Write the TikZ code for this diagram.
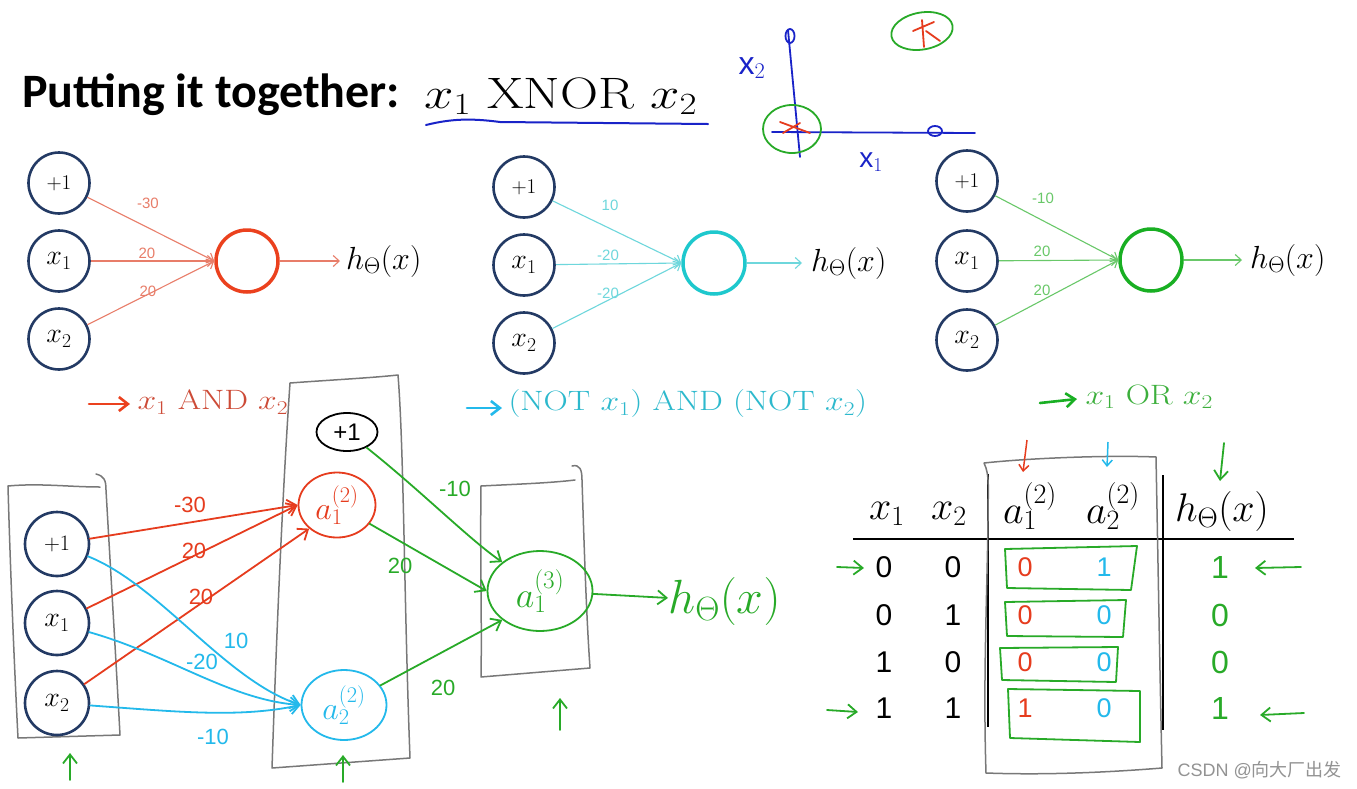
\RequirePackage{fix-cm}
\documentclass[tikz,border=0pt]{standalone}
\usepackage{fontspec}
\setsansfont{Liberation Sans}
\newfontfamily\titlefont{Carlito}
\newfontfamily\cjkfont{Noto Sans CJK SC}
\usetikzlibrary{arrows.meta,shapes.geometric}
\definecolor{navy}{RGB}{35,58,100}
\definecolor{nred}{RGB}{235,65,30}
\definecolor{lred}{RGB}{232,125,105}
\definecolor{tred}{RGB}{205,75,55}
\definecolor{ncyan}{RGB}{30,200,205}
\definecolor{lcyan}{RGB}{110,215,220}
\definecolor{tcyan}{RGB}{45,185,205}
\definecolor{ngreen}{RGB}{25,175,35}
\definecolor{lgreen}{RGB}{105,200,105}
\definecolor{tgreen}{RGB}{60,175,60}
\definecolor{hgreen}{RGB}{40,170,40}
\definecolor{hblue}{RGB}{25,35,200}
\definecolor{hcyan}{RGB}{35,185,235}
\definecolor{hred}{RGB}{230,60,30}
\definecolor{hgray}{RGB}{120,120,120}
\newcommand{\wide}[1]{\scalebox{1.2}[1]{#1}}
\begin{document}
\begin{tikzpicture}[x=1pt,y=-1pt,
  inp/.style={circle,draw=navy,line width=2.6pt,minimum size=61pt,inner sep=0pt,font=\fontsize{28}{32}\selectfont},
  outc/.style={circle,line width=3.5pt,minimum size=62pt,inner sep=0pt},
  wlab/.style={font=\sffamily\fontsize{15}{18}\selectfont},
  thinedge/.style={line width=1.1pt,-{Straight Barb[length=6pt,width=11pt]}},
  hand/.style={line width=1.8pt,line cap=round,line join=round},
  hedge/.style={hand,-{Straight Barb[length=9pt,width=14pt]}},
  hlab/.style={font=\sffamily\fontsize{22}{26}\selectfont},
  boxline/.style={draw=hgray,line width=1.5pt,line cap=round,line join=round},
  hmath/.style={font=\fontsize{32}{38}\selectfont},
  lbl/.style={font=\fontsize{28}{34}\selectfont,anchor=west},
  hcirc/.style={ellipse,hand,inner sep=0pt},
  num/.style={font=\sffamily\fontsize{30}{34}\selectfont},
  hnum/.style={font=\sffamily\fontsize{27}{30}\selectfont},
  thead/.style={font=\fontsize{40}{46}\selectfont}
]
\useasboundingbox (0,0) rectangle (1357,788);
\fill[white] (0,0) rectangle (1357,788);

% ---------- title ----------
\node[anchor=west,inner sep=0pt] (title) at (22,95) {\titlefont\bfseries\fontsize{48}{56}\selectfont Putting it together:};
\node[anchor=west,inner sep=0pt] (xnor) at (424,96) {\fontsize{44}{52}\selectfont\wide{$x_1\ \mathrm{XNOR}\ x_2$}};
\draw[hblue,line width=2pt,line cap=round] (426,125) .. controls (450,119) and (470,118) .. (500,122) -- (708,124);

% ---------- x1-x2 plot ----------
\coordinate (vtop) at (788,30);
\coordinate (vbot) at (800,157);
\coordinate (hl) at (772,132);
\coordinate (hr) at (975,133);
\draw[hblue,hand] (vtop) -- (vbot);
\draw[hblue,hand] (hl) -- (hr);
\node[ellipse,draw=hblue,hand,minimum width=9pt,minimum height=14pt,inner sep=0pt] (o1) at (790,36) {};
\node[ellipse,draw=hblue,hand,minimum width=14pt,minimum height=10pt,inner sep=0pt] (o2) at (935,131) {};
\node[ellipse,draw=hgreen,hand,minimum width=58pt,minimum height=48pt] (g1) at (792,129) {};
\node[ellipse,draw=hgreen,hand,minimum width=62pt,minimum height=37pt,rotate=10] (g2) at (922,31) {};
\draw[hred,hand] (780,122) -- (810,133) (783,133) -- (800,123);
\draw[hred,hand] (913,31) -- (934,22) (922,20) -- (924,47) (926,31) -- (940,41);
\node[hblue,font=\sffamily\fontsize{32}{36}\selectfont] (lx2) at (752,68) {x$_2$};
\node[hblue,font=\sffamily\fontsize{28}{32}\selectfont] (lx1) at (871,162) {x$_1$};

% ---------- network 1 (AND) ----------
\node[inp,font=\fontsize{21}{24}\selectfont] (n1a) at (59,183) {$+1$};
\node[inp] (n1b) at (59,261) {$x_1$};
\node[inp] (n1c) at (59,339) {$x_2$};
\node[outc,draw=nred] (n1o) at (247,261) {};
\coordinate (n1e) at (340,261);
\node[hmath,anchor=west,inner sep=0pt] (n1h) at (346,261) {$h_\Theta(x)$};
\draw[thinedge,lred] (n1a) -- (n1o.west);
\draw[thinedge,lred] (n1b) -- (n1o.west);
\draw[thinedge,lred] (n1c) -- (n1o.west);
\draw[thinedge,lred] (n1o) -- (n1e);
\node[wlab,text=lred] (w1a) at (148,203) {-30};
\node[wlab,text=lred] (w1b) at (147,253) {20};
\node[wlab,text=lred] (w1c) at (148,291) {20};
\coordinate (r1s) at (89,404);
\coordinate (r1e) at (130,404);
\draw[hedge,nred,line width=2.6pt] (r1s) -- (r1e);
\node[lbl,text=tred] (l1) at (134,402) {\wide{$x_1$ AND $x_2$}};

% ---------- network 2 (NOT AND NOT) ----------
\node[inp,font=\fontsize{21}{24}\selectfont] (n2a) at (524,187) {$+1$};
\node[inp] (n2b) at (524,265) {$x_1$};
\node[inp] (n2c) at (524,343) {$x_2$};
\node[outc,draw=ncyan] (n2o) at (714,263) {};
\coordinate (n2e) at (802,263);
\node[hmath,anchor=west,inner sep=0pt] (n2h) at (811,263) {$h_\Theta(x)$};
\draw[thinedge,lcyan] (n2a) -- (n2o.west);
\draw[thinedge,lcyan] (n2b) -- (n2o.west);
\draw[thinedge,lcyan] (n2c) -- (n2o.west);
\draw[thinedge,lcyan] (n2o) -- (n2e);
\node[wlab,text=lcyan] (w2a) at (610,205) {10};
\node[wlab,text=lcyan] (w2b) at (608,255) {-20};
\node[wlab,text=lcyan] (w2c) at (608,293) {-20};
\coordinate (r2s) at (467,408);
\coordinate (r2e) at (502,408);
\draw[hedge,hcyan,line width=2.6pt] (r2s) -- (r2e);
\node[lbl,text=tcyan] (l2) at (505,404) {\wide{(NOT $x_1$) AND (NOT $x_2$)}};

% ---------- network 3 (OR) ----------
\node[inp,font=\fontsize{21}{24}\selectfont] (n3a) at (967,181) {$+1$};
\node[inp] (n3b) at (967,261) {$x_1$};
\node[inp] (n3c) at (967,340) {$x_2$};
\node[outc,draw=ngreen] (n3o) at (1151,260) {};
\coordinate (n3e) at (1242,260);
\node[hmath,anchor=west,inner sep=0pt] (n3h) at (1250,260) {$h_\Theta(x)$};
\draw[thinedge,lgreen] (n3a) -- (n3o.west);
\draw[thinedge,lgreen] (n3b) -- (n3o.west);
\draw[thinedge,lgreen] (n3c) -- (n3o.west);
\draw[thinedge,lgreen] (n3o) -- (n3e);
\node[wlab,text=lgreen] (w3a) at (1043,198) {-10};
\node[wlab,text=lgreen] (w3b) at (1042,251) {20};
\node[wlab,text=lgreen] (w3c) at (1042,290) {20};
\coordinate (r3s) at (1040,403);
\coordinate (r3e) at (1077,399);
\draw[hedge,ngreen,line width=2.6pt] (r3s) -- (r3e);
\node[lbl,text=tgreen] (l3) at (1082,397) {\wide{$x_1$ OR $x_2$}};

% ---------- bottom: boxes ----------
\draw[boxline] (8,486) .. controls (40,483) and (70,487) .. (100,487);
\draw[boxline] (96,474) .. controls (104,476) and (106,480) .. (106,490) .. controls (110,560) and (116,660) .. (120,735) -- (18,738) .. controls (14,660) and (10,560) .. (8,486);
\draw[boxline] (290,383) .. controls (330,380) and (370,378) .. (398,375) .. controls (404,450) and (404,600) .. (410,758) -- (272,768) .. controls (276,650) and (282,500) .. (290,383);
\draw[boxline] (481,486) .. controls (520,484) and (550,483) .. (575,480);
\draw[boxline] (572,466) .. controls (580,464) and (582,470) .. (582,480) .. controls (584,540) and (586,610) .. (590,668) -- (481,677) .. controls (482,620) and (480,560) .. (481,486);

% ---------- bottom: nodes ----------
\node[inp,minimum size=64pt,font=\fontsize{22}{26}\selectfont] (b1) at (57,544) {$+1$};
\node[inp,minimum size=64pt] (b2) at (57,623) {$x_1$};
\node[inp,minimum size=64pt] (b3) at (57,703) {$x_2$};
\node[hcirc,draw=black,minimum width=61pt,minimum height=38pt,font=\sffamily\fontsize{24}{28}\selectfont] (hp) at (347,432) {+1};
\node[hcirc,draw=hred,text=hred,minimum width=77pt,minimum height=65pt,font=\fontsize{32}{36}\selectfont] (ha1) at (337,505) {$a_1^{(2)}$};
\node[hcirc,draw=hcyan,text=hcyan,minimum width=85pt,minimum height=70pt,font=\fontsize{32}{36}\selectfont] (ha2) at (344,705) {$a_2^{(2)}$};
\node[hcirc,draw=hgreen,text=hgreen,minimum width=105pt,minimum height=80pt,font=\fontsize{36}{40}\selectfont] (ha3) at (540,591) {$a_1^{(3)}$};
\node[anchor=west,text=hgreen,font=\fontsize{48}{54}\selectfont,inner sep=0pt] (hout) at (668,601) {$h_\Theta(x)$};
\draw[hedge,hgreen] (ha3) -- (hout);

% red edges
\draw[hedge,hred] (b1) -- (ha1.west);
\draw[hedge,hred] (b2) -- (ha1.west);
\draw[hedge,hred] (b3) -- (ha1.south west);
\node[hlab,text=hred] (wr1) at (190,505) {-30};
\node[hlab,text=hred] (wr2) at (194,551) {20};
\node[hlab,text=hred] (wr3) at (201,597) {20};
% cyan edges
\draw[hedge,hcyan] (b1) .. controls (160,585) and (225,680) .. (ha2.west);
\draw[hedge,hcyan] (b2) .. controls (170,655) and (230,700) .. (ha2.west);
\draw[hedge,hcyan] (b3) .. controls (180,712) and (240,718) .. (ha2.west);
\node[hlab,text=hcyan] (wc1) at (236,641) {10};
\node[hlab,text=hcyan] (wc2) at (202,662) {-20};
\node[hlab,text=hcyan] (wc3) at (213,737) {-10};
% green edges
\draw[hedge,hgreen] (hp) .. controls (420,490) and (470,540) .. (ha3.north west);
\draw[hedge,hgreen] (ha1) -- (ha3.west);
\draw[hedge,hgreen] (ha2) -- (ha3.south west);
\node[hlab,text=hgreen] (wg1) at (455,489) {-10};
\node[hlab,text=hgreen] (wg2) at (400,566) {20};
\node[hlab,text=hgreen] (wg3) at (443,688) {20};

% up arrows under layers
\coordinate (u1s) at (70,780); \coordinate (u1e) at (70,753);
\coordinate (u2s) at (343,782); \coordinate (u2e) at (343,755);
\coordinate (u3s) at (560,730); \coordinate (u3e) at (560,698);
\draw[hedge,hgreen] (u1s) -- (u1e);
\draw[hedge,hgreen] (u2s) -- (u2e);
\draw[hedge,hgreen] (u3s) -- (u3e);

% ---------- table ----------
\node[thead] (tx1) at (887,514) {$x_1$};
\node[thead] (tx2) at (949,514) {$x_2$};
\node[thead] (ta1) at (1030,506) {$a_1^{(2)}$};
\node[thead] (ta2) at (1113,506) {$a_2^{(2)}$};
\node[thead] (th) at (1222,511) {$h_\Theta(x)$};
\draw[black,line width=2pt] (853,539) -- (1294,539);
\draw[black,line width=2.2pt] (988,474) -- (988,727);
\draw[black,line width=2.2pt] (1163,475) -- (1163,730);

\foreach \r/\y/\a/\b/\p/\q/\h in {1/567/0/0/0/1/1, 2/615/0/1/0/0/0, 3/662/1/0/0/0/0, 4/708/1/1/1/0/1}{
  \node[num] (c\r a) at (884,\y) {\a};
  \node[num] (c\r b) at (953,\y) {\b};
  \node[hnum,text=hred] (c\r p) at (1025,\y) {\p};
  \node[hnum,text=hcyan] (c\r q) at (1104,\y) {\q};
  \node[hnum,text=hgreen,font=\sffamily\fontsize{32}{36}\selectfont] (c\r h) at (1220,\y) {\h};
}
% green row boxes
\draw[hgreen,hand] (1005,549) -- (1137,546) -- (1131,590) -- (1007,588) -- cycle;
\draw[hgreen,hand] (1005,602) -- (1126,600) -- (1123,637) -- (1007,636) -- cycle;
\draw[hgreen,hand] (1000,648) -- (1118,647) -- (1116,682) -- (1002,680) -- cycle;
\draw[hgreen,hand] (1008,689) -- (1140,691) -- (1140,742) -- (1010,738) -- cycle;
% gray box around hidden columns
\draw[boxline] (984,463) .. controls (1030,458) and (1110,455) .. (1156,457) .. controls (1158,560) and (1160,680) .. (1162,768) .. controls (1100,773) and (1040,775) .. (986,773) .. controls (983,680) and (987,600) .. (988,520) .. controls (988,490) and (990,475) .. (984,463);
% arrows above columns
\coordinate (dr1) at (1027,440); \coordinate (dr2) at (1023,472);
\coordinate (dc1) at (1108,442); \coordinate (dc2) at (1107,467);
\coordinate (dg1) at (1224,443); \coordinate (dg2) at (1220,481);
\draw[hred,line width=1.5pt,-{Straight Barb[length=6pt,width=10pt]}] (dr1) -- (dr2);
\draw[hcyan,line width=1.5pt,-{Straight Barb[length=6pt,width=10pt]}] (dc1) -- (dc2);
\draw[hedge,hgreen] (dg1) -- (dg2);
% row arrows
\coordinate (la1) at (837,567); \coordinate (la2) at (864,568);
\coordinate (lb1) at (827,710); \coordinate (lb2) at (858,712);
\coordinate (ra1) at (1301,567); \coordinate (ra2) at (1255,568);
\coordinate (rb1) at (1304,713); \coordinate (rb2) at (1260,715);
\draw[hedge,hgreen] (la1) -- (la2);
\draw[hedge,hgreen] (lb1) -- (lb2);
\draw[hedge,hgreen] (ra1) -- (ra2);
\draw[hedge,hgreen] (rb1) -- (rb2);

% watermark
\node[anchor=east,text=hgray!80,font=\sffamily\fontsize{18}{22}\selectfont,inner sep=0pt] (wm) at (1342,770) {CSDN @{\cjkfont 向大厂出发}};
\end{tikzpicture}
\end{document}
